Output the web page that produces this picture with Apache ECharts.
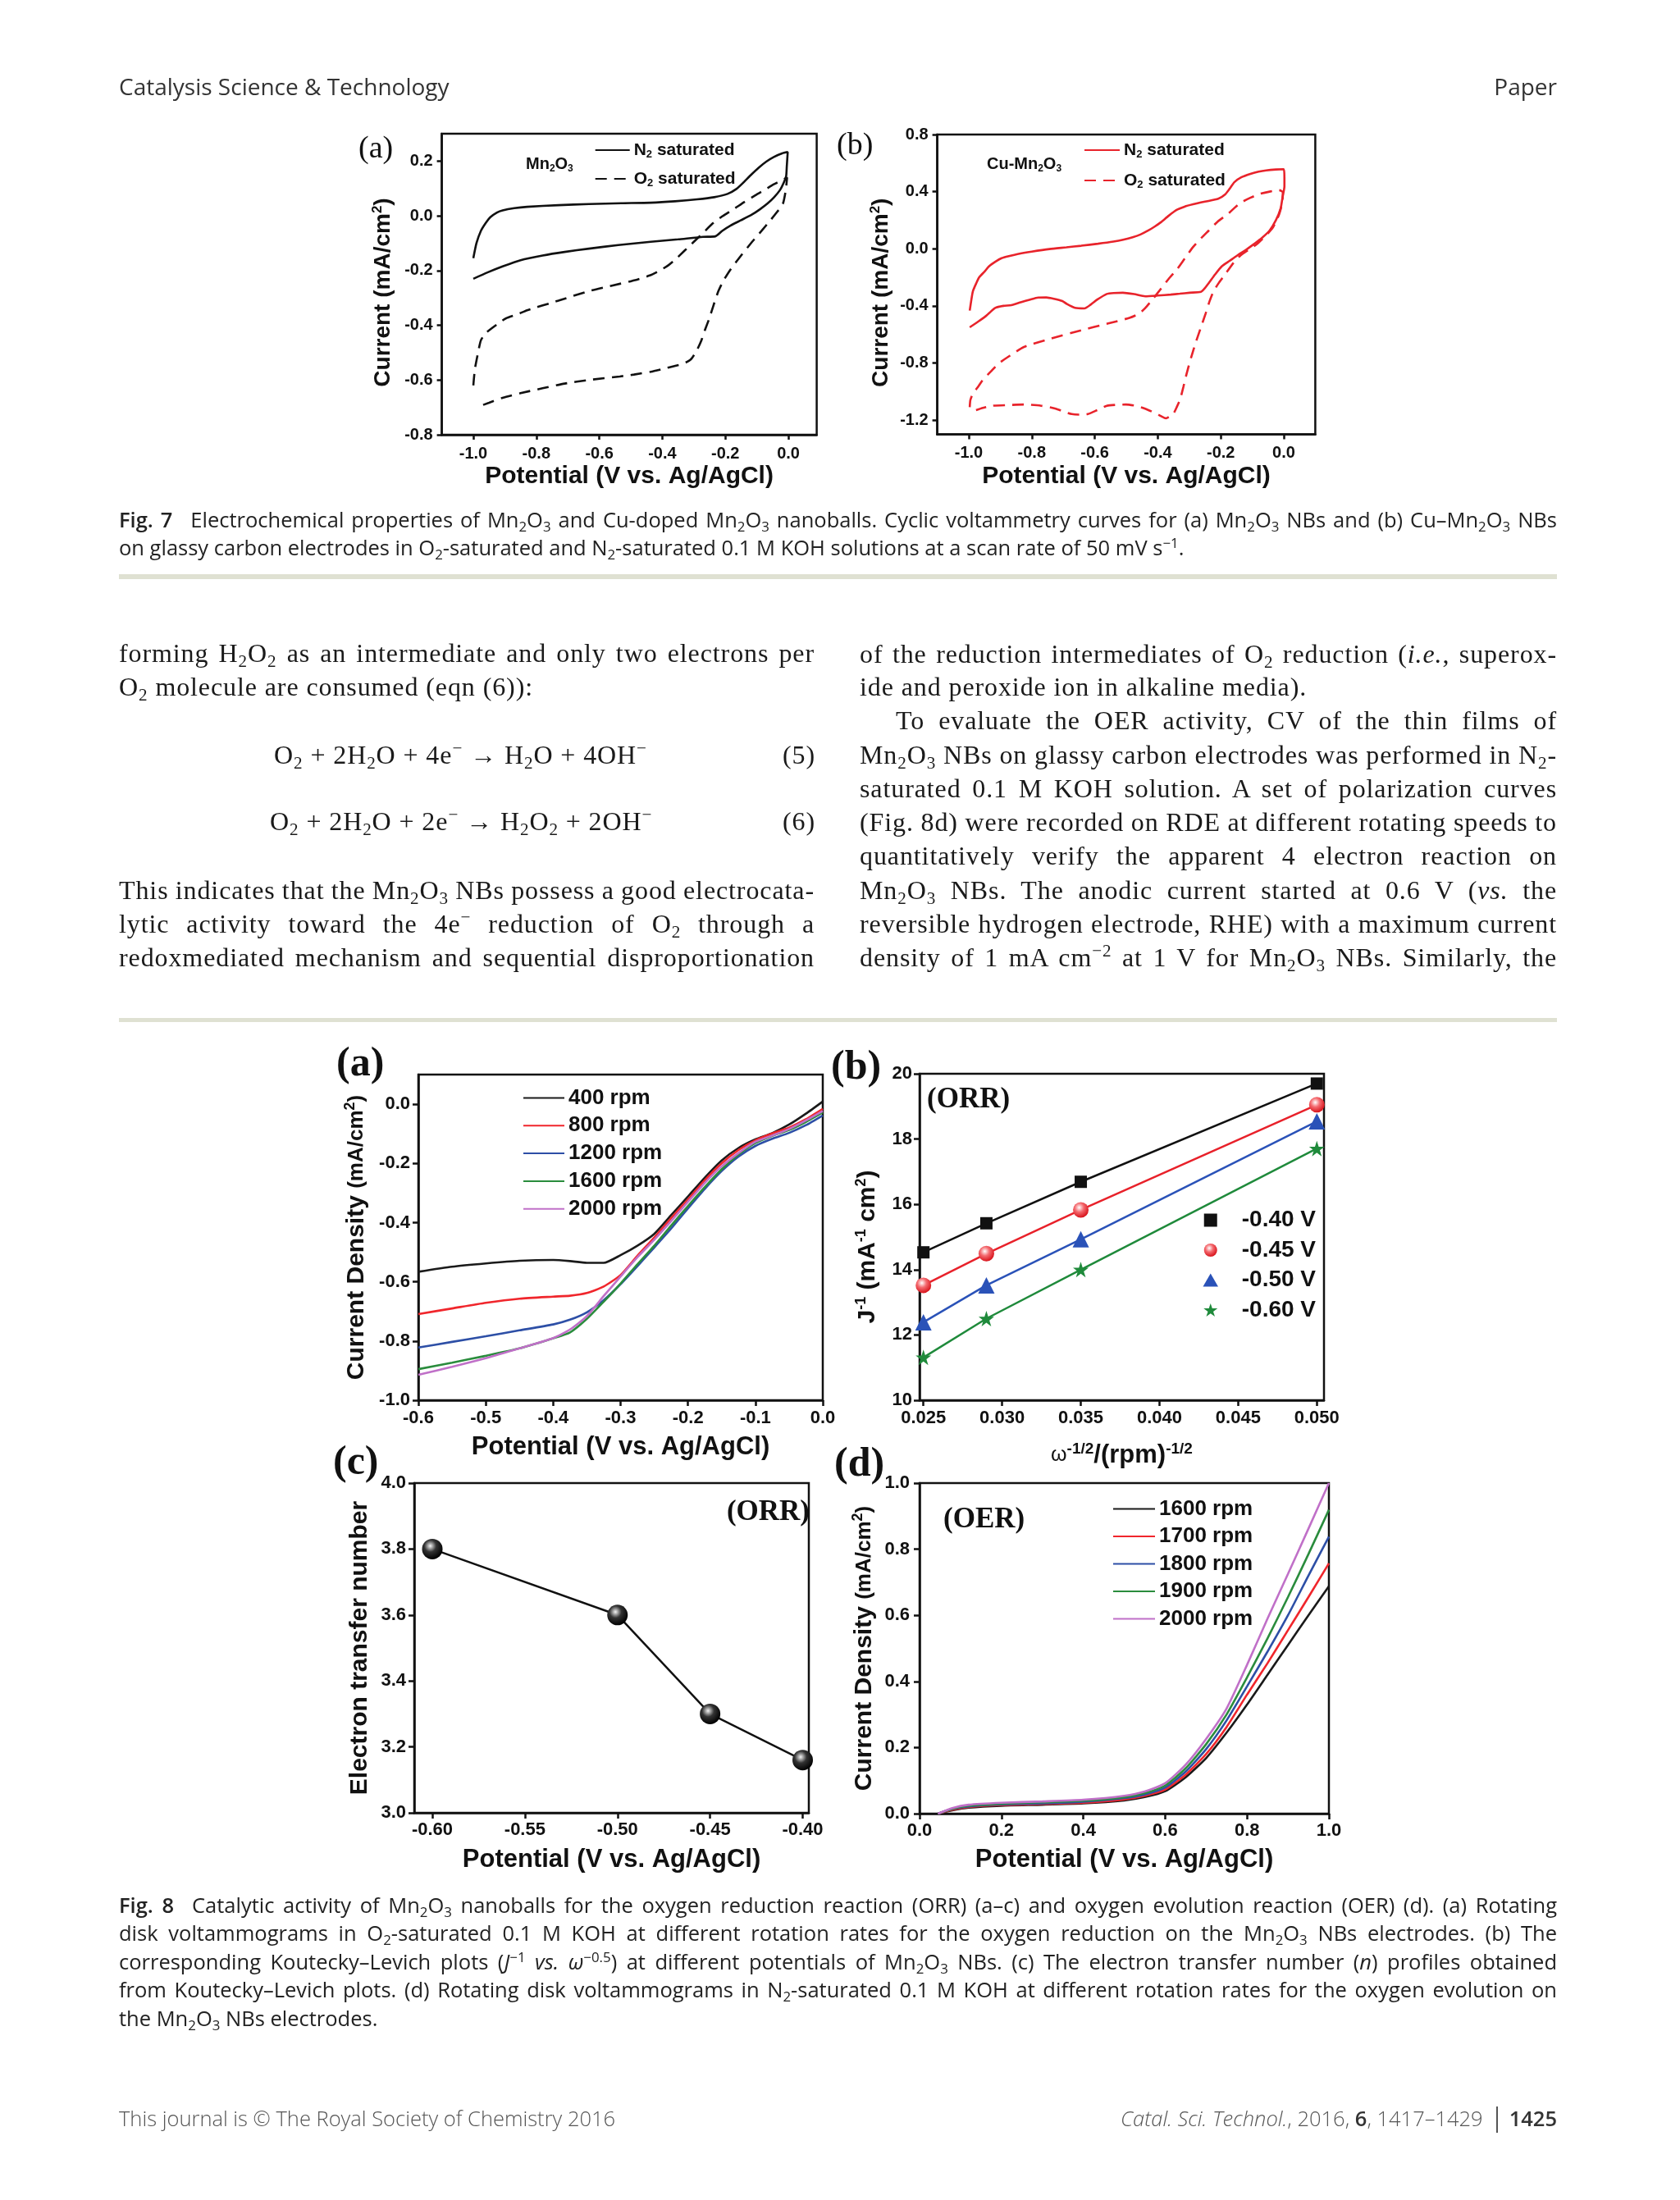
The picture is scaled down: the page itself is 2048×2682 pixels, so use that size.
<!DOCTYPE html>
<html><head><meta charset="utf-8">
<script src="https://cdn.jsdelivr.net/npm/echarts@6/dist/echarts.min.js"></script>
<style>
html,body{margin:0;padding:0;background:#fff;}
#page{position:relative;width:2048px;height:2682px;overflow:hidden;background:#fff;}
#chart{position:absolute;left:0;top:0;width:2048px;height:2682px;}
.t{position:absolute;white-space:nowrap;}
.hdr{font-family:"Open Sans",sans-serif;font-size:28px;color:#333;line-height:36px;}
.cap{font-family:"Open Sans",sans-serif;font-size:25.5px;color:#222;line-height:34px;}
.cap b{font-weight:600;margin-right:22px;}
.body{font-family:"Liberation Serif",serif;font-size:32px;letter-spacing:0.9px;color:#1a1a1a;line-height:40px;}
.foot{font-family:"Open Sans",sans-serif;font-size:25.5px;color:#555;font-weight:300;line-height:34px;}
.foot b{font-weight:600;color:#333;}
sub{font-size:66%;vertical-align:-0.28em;line-height:0;}
sup{font-size:66%;vertical-align:0.55em;line-height:0;}
.rule{position:absolute;left:145px;width:1753px;background:#dfe1d2;}
</style></head>
<body><div id="page"><div id="chart"></div>
<div class="rule" style="top:700px;height:6px;"></div>
<div class="rule" style="top:1241px;height:5px;"></div>
</div>
<script>
// ---------------- DATA ----------------
// Fig 7a: Mn2O3 cyclic voltammograms [potential V, current mA/cm2]
const cvMnN2 = [[-1.0,-0.155],[-0.99,-0.10],[-0.976,-0.055],[-0.96,-0.025],[-0.946,-0.005],[-0.925,0.012],[-0.907,0.02],[-0.87,0.028],[-0.829,0.033],[-0.73,0.039],[-0.633,0.043],[-0.53,0.046],[-0.437,0.048],[-0.36,0.053],[-0.29,0.06],[-0.235,0.068],[-0.193,0.08],[-0.165,0.098],[-0.144,0.12],[-0.12,0.148],[-0.095,0.175],[-0.07,0.198],[-0.046,0.215],[-0.02,0.228],[-0.002,0.233],
 [-0.005,0.18],[-0.007,0.145],[-0.015,0.12],[-0.026,0.095],[-0.045,0.068],[-0.066,0.045],[-0.09,0.024],[-0.115,0.005],[-0.15,-0.016],[-0.183,-0.035],[-0.21,-0.055],[-0.232,-0.075],[-0.271,-0.077],[-0.35,-0.086],[-0.437,-0.095],[-0.54,-0.107],[-0.633,-0.12],[-0.71,-0.132],[-0.78,-0.145],[-0.85,-0.162],[-0.907,-0.185],[-0.955,-0.207],[-1.0,-0.23]];
const cvMnO2 = [[-1.0,-0.62],[-0.995,-0.56],[-0.985,-0.5],[-0.976,-0.455],[-0.962,-0.43],[-0.946,-0.415],[-0.92,-0.393],[-0.897,-0.375],[-0.86,-0.36],[-0.829,-0.345],[-0.73,-0.31],[-0.633,-0.275],[-0.56,-0.255],[-0.486,-0.235],[-0.44,-0.218],[-0.408,-0.2],[-0.38,-0.18],[-0.359,-0.16],[-0.33,-0.128],[-0.3,-0.095],[-0.27,-0.062],[-0.242,-0.03],[-0.21,-0.002],[-0.173,0.025],[-0.14,0.05],[-0.105,0.075],[-0.075,0.095],[-0.046,0.115],[-0.02,0.13],[-0.004,0.14],
 [-0.008,0.095],[-0.017,0.045],[-0.035,0.015],[-0.056,-0.015],[-0.085,-0.055],[-0.115,-0.095],[-0.15,-0.145],[-0.183,-0.195],[-0.205,-0.235],[-0.222,-0.275],[-0.237,-0.325],[-0.251,-0.375],[-0.264,-0.415],[-0.276,-0.455],[-0.292,-0.495],[-0.31,-0.525],[-0.333,-0.54],[-0.359,-0.548],[-0.4,-0.56],[-0.437,-0.57],[-0.49,-0.58],[-0.535,-0.587],[-0.633,-0.6],[-0.71,-0.613],[-0.78,-0.63],[-0.85,-0.648],[-0.907,-0.665],[-0.95,-0.683],[-0.99,-0.70]];
// Fig 7b: Cu-Mn2O3
const cvCuN2 = [[-0.997,-0.433],[-0.992,-0.36],[-0.987,-0.298],[-0.977,-0.245],[-0.967,-0.2],[-0.95,-0.16],[-0.936,-0.124],[-0.915,-0.09],[-0.896,-0.066],[-0.87,-0.05],[-0.845,-0.037],[-0.8,-0.02],[-0.744,-0.002],[-0.69,0.01],[-0.643,0.021],[-0.59,0.035],[-0.541,0.05],[-0.51,0.063],[-0.48,0.08],[-0.455,0.1],[-0.43,0.128],[-0.41,0.155],[-0.39,0.186],[-0.365,0.232],[-0.339,0.273],[-0.315,0.295],[-0.288,0.311],[-0.25,0.33],[-0.208,0.35],[-0.187,0.379],[-0.172,0.42],[-0.157,0.466],[-0.135,0.5],[-0.106,0.524],[-0.08,0.54],[-0.056,0.549],[-0.025,0.555],[0.0,0.557],
 [0.002,0.5],[0.002,0.437],[-0.004,0.36],[-0.01,0.282],[-0.025,0.2],[-0.045,0.128],[-0.07,0.075],[-0.096,0.031],[-0.12,-0.008],[-0.147,-0.046],[-0.172,-0.085],[-0.197,-0.124],[-0.218,-0.18],[-0.238,-0.24],[-0.252,-0.28],[-0.263,-0.302],[-0.299,-0.308],[-0.33,-0.315],[-0.359,-0.321],[-0.4,-0.328],[-0.44,-0.333],[-0.475,-0.318],[-0.511,-0.308],[-0.54,-0.31],[-0.562,-0.317],[-0.592,-0.356],[-0.612,-0.39],[-0.633,-0.418],[-0.663,-0.414],[-0.69,-0.385],[-0.703,-0.366],[-0.73,-0.35],[-0.754,-0.341],[-0.78,-0.342],[-0.805,-0.356],[-0.835,-0.375],[-0.865,-0.395],[-0.89,-0.4],[-0.916,-0.414],[-0.935,-0.45],[-0.946,-0.472],[-0.97,-0.51],[-0.997,-0.55]];
const cvCuO2 = [[-0.997,-1.11],[-0.995,-1.06],[-0.987,-1.015],[-0.97,-0.965],[-0.956,-0.92],[-0.93,-0.86],[-0.906,-0.805],[-0.87,-0.75],[-0.825,-0.688],[-0.74,-0.63],[-0.643,-0.571],[-0.56,-0.525],[-0.49,-0.484],[-0.46,-0.455],[-0.44,-0.416],[-0.415,-0.35],[-0.39,-0.28],[-0.365,-0.21],[-0.339,-0.144],[-0.315,-0.07],[-0.288,0.012],[-0.262,0.075],[-0.238,0.128],[-0.21,0.19],[-0.177,0.244],[-0.157,0.285],[-0.137,0.322],[-0.105,0.358],[-0.076,0.384],[-0.045,0.4],[-0.015,0.41],[-0.003,0.396],
 [-0.005,0.322],[-0.015,0.24],[-0.035,0.147],[-0.06,0.085],[-0.086,0.031],[-0.11,-0.005],[-0.137,-0.046],[-0.16,-0.1],[-0.187,-0.182],[-0.205,-0.235],[-0.223,-0.298],[-0.236,-0.37],[-0.248,-0.453],[-0.263,-0.55],[-0.278,-0.647],[-0.294,-0.76],[-0.309,-0.88],[-0.319,-0.97],[-0.329,-1.054],[-0.34,-1.11],[-0.349,-1.15],[-0.362,-1.175],[-0.374,-1.188],[-0.392,-1.17],[-0.41,-1.15],[-0.44,-1.12],[-0.47,-1.1],[-0.501,-1.091],[-0.53,-1.093],[-0.562,-1.1],[-0.592,-1.13],[-0.622,-1.158],[-0.648,-1.162],[-0.673,-1.158],[-0.7,-1.14],[-0.724,-1.12],[-0.77,-1.1],[-0.825,-1.091],[-0.876,-1.095],[-0.926,-1.1],[-0.955,-1.115],[-0.977,-1.13]];

// Fig 8a: ORR RDE curves
const orrE = [-0.6,-0.55,-0.5,-0.45,-0.4,-0.375,-0.35,-0.325,-0.3,-0.275,-0.25,-0.225,-0.2,-0.175,-0.15,-0.125,-0.1,-0.075,-0.05,-0.025,0];
const orr400  = [-0.566,-0.549,-0.538,-0.529,-0.526,-0.53,-0.536,-0.536,-0.51,-0.478,-0.438,-0.375,-0.312,-0.248,-0.19,-0.148,-0.119,-0.098,-0.069,-0.032,0.009];
const orr800  = [-0.709,-0.69,-0.671,-0.657,-0.65,-0.647,-0.638,-0.616,-0.577,-0.512,-0.45,-0.385,-0.322,-0.257,-0.2,-0.155,-0.122,-0.099,-0.079,-0.051,-0.016];
const orr1200 = [-0.822,-0.803,-0.784,-0.764,-0.744,-0.728,-0.703,-0.662,-0.608,-0.547,-0.484,-0.42,-0.352,-0.286,-0.226,-0.177,-0.141,-0.117,-0.097,-0.071,-0.038];
const orr1600 = [-0.895,-0.873,-0.85,-0.825,-0.791,-0.771,-0.725,-0.667,-0.606,-0.541,-0.478,-0.41,-0.344,-0.28,-0.22,-0.17,-0.131,-0.107,-0.087,-0.06,-0.028];
const orr2000 = [-0.914,-0.887,-0.858,-0.825,-0.79,-0.761,-0.716,-0.648,-0.582,-0.517,-0.458,-0.395,-0.33,-0.266,-0.21,-0.165,-0.127,-0.106,-0.084,-0.055,-0.023];

// Fig 8b: Koutecky-Levich
const klX = [0.025, 0.029, 0.035, 0.050];
const kl040 = [14.53, 15.42, 16.69, 19.70];
const kl045 = [13.52, 14.49, 15.83, 19.05];
const kl050 = [12.39, 13.52, 14.93, 18.54];
const kl060 = [11.31, 12.50, 14.00, 17.71];

// Fig 8c: electron transfer number
const nE = [-0.60, -0.50, -0.45, -0.40];
const nVal = [3.80, 3.60, 3.30, 3.16];

// Fig 8d: OER RDE curves
const oerE = [0.045,0.08,0.12,0.2,0.3,0.4,0.5,0.55,0.6,0.65,0.7,0.75,0.8,0.85,0.9,0.95,1.0];
const oer1600 = [0,0.010,0.018,0.024,0.027,0.031,0.040,0.050,0.068,0.110,0.168,0.245,0.330,0.420,0.510,0.600,0.688];
const oer1700 = [0,0.012,0.020,0.026,0.029,0.033,0.043,0.054,0.073,0.118,0.180,0.262,0.360,0.455,0.555,0.655,0.757];
const oer1800 = [0,0.014,0.022,0.028,0.031,0.036,0.047,0.058,0.079,0.127,0.195,0.282,0.385,0.490,0.600,0.720,0.838];
const oer1900 = [0,0.015,0.024,0.030,0.034,0.039,0.050,0.062,0.085,0.137,0.210,0.300,0.412,0.530,0.655,0.785,0.919];
const oer2000 = [0,0.017,0.027,0.033,0.037,0.042,0.054,0.067,0.092,0.148,0.226,0.318,0.450,0.590,0.725,0.862,1.000];

// tick values
const ticks7x = [-1.0,-0.8,-0.6,-0.4,-0.2,0.0];
const ticks7aY = [-0.8,-0.6,-0.4,-0.2,0.0,0.2];
const ticks7bY = [-1.2,-0.8,-0.4,0.0,0.4,0.8];
const ticks8aX = [-0.6,-0.5,-0.4,-0.3,-0.2,-0.1,0.0];
const ticks8aY = [-1.0,-0.8,-0.6,-0.4,-0.2,0.0];
const ticks8bX = [0.025,0.030,0.035,0.040,0.045,0.050];
const ticks8bY = [10,12,14,16,18,20];
const ticks8cX = [-0.60,-0.55,-0.50,-0.45,-0.40];
const ticks8cY = [3.0,3.2,3.4,3.6,3.8,4.0];
const ticks8dX = [0.0,0.2,0.4,0.6,0.8,1.0];
const ticks8dY = [0.0,0.2,0.4,0.6,0.8,1.0];

// ---------------- TEXT (HTML) ----------------
const page = document.getElementById('page');
function addText(html, cls, x, cy, opts) {
  const el = document.createElement('div');
  el.className = 't ' + cls; el.innerHTML = html; page.appendChild(el);
  const lh = parseFloat(getComputedStyle(el).lineHeight);
  el.style.top = (cy - lh / 2) + 'px';
  const w = el.getBoundingClientRect().width;
  if (opts && opts.justify) {
    const n = (el.textContent.match(/ /g) || []).length;
    if (n) el.style.wordSpacing = ((opts.justify - w) / n) + 'px';
    el.style.left = x + 'px';
  } else if (opts && opts.right) {
    el.style.left = (x - w) + 'px';
  } else el.style.left = x + 'px';
}
const M = 'Mn<sub>2</sub>O<sub>3</sub>';
addText('Catalysis Science &amp; Technology', 'hdr', 145, 105);
addText('Paper', 'hdr', 1898, 105, {right:true});
addText('<b>Fig. 7</b>Electrochemical properties of ' + M + ' and Cu-doped ' + M + ' nanoballs. Cyclic voltammetry curves for (a) ' + M + ' NBs and (b) Cu–' + M + ' NBs', 'cap', 145, 633, {justify:1753});
addText('on glassy carbon electrodes in O<sub>2</sub>-saturated and N<sub>2</sub>-saturated 0.1 M KOH solutions at a scan rate of 50 mV s<sup>−1</sup>.', 'cap', 145, 667);

const leftCol = [
  [796, 'forming H<sub>2</sub>O<sub>2</sub> as an intermediate and only two electrons per', true],
  [837, 'O<sub>2</sub> molecule are consumed (eqn (6)):', false],
  [1085, 'This indicates that the ' + M + ' NBs possess a good electrocata-', true],
  [1126, 'lytic activity toward the 4e<sup>−</sup> reduction of O<sub>2</sub> through a', true],
  [1167, 'redoxmediated mechanism and sequential disproportionation', true]];
leftCol.forEach(l => addText(l[1], 'body', 145, l[0], l[2] ? {justify:848} : null));
addText('O<sub>2</sub> + 2H<sub>2</sub>O + 4e<sup>−</sup> → H<sub>2</sub>O + 4OH<sup>−</sup>', 'body', 334, 920);
addText('(5)', 'body', 994, 920, {right:true});
addText('O<sub>2</sub> + 2H<sub>2</sub>O + 2e<sup>−</sup> → H<sub>2</sub>O<sub>2</sub> + 2OH<sup>−</sup>', 'body', 329, 1001);
addText('(6)', 'body', 994, 1001, {right:true});
const rightCol = [
  [797, 'of the reduction intermediates of O<sub>2</sub> reduction (<i>i.e.</i>, superox-', true, 0],
  [837, 'ide and peroxide ion in alkaline media).', false, 0],
  [878, 'To evaluate the OER activity, CV of the thin films of', true, 44],
  [920, M + ' NBs on glassy carbon electrodes was performed in N<sub>2</sub>-', true, 0],
  [961, 'saturated 0.1 M KOH solution. A set of polarization curves', true, 0],
  [1002, '(Fig. 8d) were recorded on RDE at different rotating speeds to', true, 0],
  [1043, 'quantitatively verify the apparent 4 electron reaction on', true, 0],
  [1085, M + ' NBs. The anodic current started at 0.6 V (<i>vs.</i> the', true, 0],
  [1126, 'reversible hydrogen electrode, RHE) with a maximum current', true, 0],
  [1167, 'density of 1 mA cm<sup>−2</sup> at 1 V for ' + M + ' NBs. Similarly, the', true, 0]];
rightCol.forEach(l => addText(l[1], 'body', 1048 + l[3], l[0], l[2] ? {justify:850 - l[3]} : null));

const cap8 = [
  [2322, '<b>Fig. 8</b>Catalytic activity of ' + M + ' nanoballs for the oxygen reduction reaction (ORR) (a–c) and oxygen evolution reaction (OER) (d). (a) Rotating', true],
  [2356, 'disk voltammograms in O<sub>2</sub>-saturated 0.1 M KOH at different rotation rates for the oxygen reduction on the ' + M + ' NBs electrodes. (b) The', true],
  [2391, 'corresponding Koutecky–Levich plots (<i>J</i><sup>−1</sup> <i>vs.</i> <i>ω</i><sup>−0.5</sup>) at different potentials of ' + M + ' NBs. (c) The electron transfer number (<i>n</i>) profiles obtained', true],
  [2425, 'from Koutecky–Levich plots. (d) Rotating disk voltammograms in N<sub>2</sub>-saturated 0.1 M KOH at different rotation rates for the oxygen evolution on', true],
  [2460, 'the ' + M + ' NBs electrodes.', false]];
cap8.forEach(l => addText(l[1], 'cap', 145, l[0], l[2] ? {justify:1753} : null));
addText('This journal is © The Royal Society of Chemistry 2016', 'foot', 145, 2582);
addText('<i>Catal. Sci. Technol.</i>, 2016, <b>6</b>, 1417–1429<span style="display:inline-block;width:2px;height:32px;background:#555;vertical-align:-8px;margin:0 14px 0 16px;"></span><b>1425</b>', 'foot', 1898, 2582, {right:true});

// ---------------- CHART ----------------
const AX = '#111';
const SANS = '"Liberation Sans", Arial, sans-serif';
const SERIF = '"Liberation Serif", "Times New Roman", serif';
const zip = (xs, ys) => xs.map((x, i) => [x, ys[i]]);
const fmt = (v, d) => { let s = Number(v).toFixed(d); if (parseFloat(s) === 0) s = (0).toFixed(d); return s; };

function richSet(fs) {
  return {
    t: {fontSize: fs, fontWeight: 'bold', fontFamily: SANS, color: AX, lineHeight: fs + 4},
    p: {fontSize: Math.round(fs * 0.85), fontWeight: 'bold', fontFamily: SANS, color: AX, lineHeight: fs + 4},
    u: {fontSize: Math.round(fs * 0.6), fontWeight: 'bold', fontFamily: SANS, color: AX, lineHeight: Math.round(fs * 0.5), verticalAlign: 'top'},
    s: {fontSize: Math.round(fs * 0.6), fontWeight: 'bold', fontFamily: SANS, color: AX, lineHeight: Math.round(fs * 0.5), verticalAlign: 'bottom'},
    w: {fontSize: Math.round(fs * 0.8), fontWeight: 'normal', fontFamily: SANS, color: AX, lineHeight: fs + 4}
  };
}
function axis(gi, min, max, ticks, dec, o) {
  return {
    gridIndex: gi, type: 'value', min: min, max: max,
    axisLine: {show: true, onZero: false, lineStyle: {color: AX, width: 2.5}},
    axisTick: {show: true, inside: false, length: o.tl || 7, customValues: ticks, lineStyle: {color: AX, width: 2.5}},
    axisLabel: {show: true, customValues: ticks, margin: o.margin, formatter: v => fmt(v, dec),
      color: AX, fontFamily: SANS, fontWeight: 'bold', fontSize: o.fs, hideOverlap: false},
    splitLine: {show: false},
    name: o.name, nameLocation: 'middle', nameGap: o.gap,
    nameTextStyle: {fontFamily: SANS, fontWeight: 'bold', fontSize: o.nfs, color: AX, lineHeight: o.nfs + 4,
      rich: richSet(o.nfs), padding: o.pad || 0}
  };
}
const grids = [
  [538.6, 163, 457, 367],
  [1142.6, 164, 460.8, 365.5],
  [510, 1310, 493, 397],
  [1121, 1309, 493, 398],
  [505, 1808, 481, 402],
  [1121, 1808, 499, 403]
];
const xAxes = [
  axis(0, -1.1, 0.09, ticks7x, 1, {fs: 20, margin: 13, tl: 6, name: 'Potential (V vs. Ag/AgCl)', nfs: 30, gap: 31}),
  axis(1, -1.1, 0.1, ticks7x, 1, {fs: 20, margin: 13, tl: 6, name: 'Potential (V vs. Ag/AgCl)', nfs: 30, gap: 31.5}),
  axis(2, -0.6, 0.0, ticks8aX, 1, {fs: 22, margin: 11, name: 'Potential (V vs. Ag/AgCl)', nfs: 31, gap: 40}),
  axis(3, 0.024755, 0.050454, ticks8bX, 3, {fs: 22, margin: 11, name: '{w|ω}{u|-1/2}{t|/(rpm)}{u|-1/2}', nfs: 31, gap: 50}),
  axis(4, -0.60975, -0.39668, ticks8cX, 2, {fs: 22, margin: 10, name: 'Potential (V vs. Ag/AgCl)', nfs: 31, gap: 40}),
  axis(5, 0, 1, ticks8dX, 1, {fs: 22, margin: 10, name: 'Potential (V vs. Ag/AgCl)', nfs: 31, gap: 39})
];
const yAxes = [
  axis(0, -0.8, 0.3, ticks7aY, 1, {fs: 20, margin: 11, tl: 6, name: '{t|Current (mA/cm}{u|2}{t|)}', nfs: 28, gap: 55, pad: [0, 20, 0, 0]}),
  axis(1, -1.3, 0.8, ticks7bY, 1, {fs: 20, margin: 11, tl: 6, name: '{t|Current (mA/cm}{u|2}{t|)}', nfs: 28, gap: 52, pad: [0, 20, 0, 0]}),
  axis(2, -1.0, 0.1, ticks8aY, 1, {fs: 22, margin: 10, name: '{t|Current Density }{p|(mA/cm}{u|2}{p|)}', nfs: 30, gap: 58}),
  axis(3, 10, 20, ticks8bY, 0, {fs: 22, margin: 9, name: '{t|J}{u|-1}{t| (mA}{u|-1}{t| cm}{u|2}{t|)}', nfs: 30, gap: 46, pad: [0, 24, 0, 0]}),
  axis(4, 3.0, 4.0, ticks8cY, 1, {fs: 22, margin: 10, name: 'Electron transfer number', nfs: 30, gap: 49}),
  axis(5, 0, 1, ticks8dY, 1, {fs: 22, margin: 12, name: '{t|Current Density }{p|(mA/cm}{u|2}{p|)}', nfs: 30, gap: 50})
];

const RED7 = '#e8232b';
const C8 = {k: '#1a1a1a', r: '#f0262c', b: '#2d4fa6', g: '#2a8c3d', p: '#c070c8'};
function ln(name, gi, data, color, extra) {
  return Object.assign({type: 'line', name: name, xAxisIndex: gi, yAxisIndex: gi, data: data,
    symbol: 'none', showSymbol: false, smooth: 0.2, lineStyle: {color: color, width: 2.6}, itemStyle: {color: color}, z: 3}, extra || {});
}
const sphere = (c0, c1, c2) => ({type: 'radial', x: 0.4, y: 0.35, r: 0.65,
  colorStops: [{offset: 0, color: c0}, {offset: 0.45, color: c1}, {offset: 1, color: c2}]});
const STAR = 'path://M50,0 L61.8,35.1 L98.9,35.1 L68.9,56.8 L80.3,92 L50,70.2 L19.7,92 L31.1,56.8 L1.1,35.1 L38.2,35.1 Z';
const SQUARE = 'path://M0,0 L10,0 L10,10 L0,10 Z';
const TRI = 'path://M5,0 L10,8.66 L0,8.66 Z';

function klSeries(name, ys, color, symbol, size, itemColor) {
  return {type: 'line', name: name, xAxisIndex: 3, yAxisIndex: 3, data: zip(klX, ys), smooth: false,
    symbol: symbol, symbolSize: size, showSymbol: true, lineStyle: {color: color, width: 2.5},
    itemStyle: {color: itemColor || color}, z: 3};
}

const series = [
  ln('aN2', 0, cvMnN2, '#111'),
  ln('aO2', 0, cvMnO2, '#111', {lineStyle: {color: '#111', width: 2.6, type: [14, 9]}}),
  ln('bN2', 1, cvCuN2, RED7),
  ln('bO2', 1, cvCuO2, RED7, {lineStyle: {color: RED7, width: 2.6, type: [14, 9]}}),
  ln('r400', 2, zip(orrE, orr400), C8.k),
  ln('r800', 2, zip(orrE, orr800), C8.r),
  ln('r1200', 2, zip(orrE, orr1200), C8.b),
  ln('r1600', 2, zip(orrE, orr1600), C8.g),
  ln('r2000', 2, zip(orrE, orr2000), C8.p),
  klSeries('k40', kl040, '#111', 'rect', 15),
  klSeries('k45', kl045, '#e8212a', 'circle', 19, sphere('#ffffff', '#f46a6f', '#d8141c')),
  klSeries('k50', kl050, '#2a52b8', 'triangle', 20),
  klSeries('k60', kl060, '#1f8a3b', STAR, 19),
  {type: 'line', name: 'nline', xAxisIndex: 4, yAxisIndex: 4, data: zip(nE, nVal), smooth: false,
    symbol: 'circle', symbolSize: 25, showSymbol: true, lineStyle: {color: '#111', width: 2.5},
    itemStyle: {color: sphere('#f4f4f4', '#333333', '#000000')}, z: 3},
  ln('o1600', 5, zip(oerE, oer1600), C8.k),
  ln('o1700', 5, zip(oerE, oer1700), C8.r),
  ln('o1800', 5, zip(oerE, oer1800), C8.b),
  ln('o1900', 5, zip(oerE, oer1900), C8.g),
  ln('o2000', 5, zip(oerE, oer2000), C8.p)
];

const legendLabels = {
  aN2: '{t|N}{s|2}{t| saturated}', aO2: '{t|O}{s|2}{t| saturated}',
  bN2: '{t|N}{s|2}{t| saturated}', bO2: '{t|O}{s|2}{t| saturated}',
  r400: '{t|400 rpm}', r800: '{t|800 rpm}', r1200: '{t|1200 rpm}', r1600: '{t|1600 rpm}', r2000: '{t|2000 rpm}',
  k40: '{t|-0.40 V}', k45: '{t|-0.45 V}', k50: '{t|-0.50 V}', k60: '{t|-0.60 V}',
  o1600: '{t|1600 rpm}', o1700: '{t|1700 rpm}', o1800: '{t|1800 rpm}', o1900: '{t|1900 rpm}', o2000: '{t|2000 rpm}'
};
function leg(left, top, data, iw, ih, fs, gap, lineOnly) {
  const rs = richSet(fs);
  rs.t.lineHeight = fs + 3; rs.s.lineHeight = Math.round(fs * 0.45);
  const l = {orient: 'vertical', left: left, top: top, padding: 0, itemGap: gap, itemWidth: iw, itemHeight: ih,
    selectedMode: false, data: data, formatter: n => legendLabels[n],
    textStyle: {color: AX, fontFamily: SANS, fontWeight: 'bold', fontSize: fs, lineHeight: fs + 3, rich: rs}};
  if (lineOnly) l.itemStyle = {opacity: 0};
  return l;
}
const legends = [
  leg(724.7, 171, ['aN2', 'aO2'], 42, 14, 21, 11, true),
  leg(1321, 171, ['bN2', 'bO2'], 43, 14, 21, 13, true),
  leg(637, 1324, ['r400', 'r800', 'r1200', 'r1600', 'r2000'], 50, 14, 26, 4.8, true),
  leg(1466.5, 1472, [{name: 'k40', icon: SQUARE}, {name: 'k45', icon: 'circle'}, {name: 'k50', icon: TRI}, {name: 'k60', icon: STAR}], 66, 16, 28, 5.5, false),
  leg(1356, 1825, ['o1600', 'o1700', 'o1800', 'o1900', 'o2000'], 51, 14, 26, 4.5, true)
];

function txt(x, y, text, font, align, rich) {
  const st = {text: text, x: 0, y: 0, font: font, fill: AX, align: align || 'left', verticalAlign: 'middle'};
  if (rich) st.rich = rich;
  return {type: 'text', x: x, y: y, z: 100, style: st};
}
const r20 = richSet(20); r20.s.lineHeight = 9;
const graphics = [
  txt(437, 182, '(a)', '38px ' + SERIF),
  txt(1020, 178, '(b)', '38px ' + SERIF),
  txt(641, 200, '{t|Mn}{s|2}{t|O}{s|3}', 'bold 20px ' + SANS, 'left', r20),
  txt(1203, 200, '{t|Cu-Mn}{s|2}{t|O}{s|3}', 'bold 20px ' + SANS, 'left', r20),
  txt(410, 1298, '(a)', 'bold 50px ' + SERIF),
  txt(1013, 1302, '(b)', 'bold 50px ' + SERIF),
  txt(406, 1784, '(c)', 'bold 50px ' + SERIF),
  txt(1017, 1786, '(d)', 'bold 50px ' + SERIF),
  txt(1130, 1341, '(ORR)', 'bold 35px ' + SERIF),
  txt(987, 1844, '(ORR)', 'bold 35px ' + SERIF, 'right'),
  txt(1150, 1853, '(OER)', 'bold 35px ' + SERIF)
];

const chart = echarts.init(document.getElementById('chart'), null, {renderer: 'canvas', width: 2048, height: 2682});
chart.setOption({
  animation: false,
  backgroundColor: 'transparent',
  grid: grids.map(g => ({left: g[0], top: g[1], width: g[2], height: g[3], show: true, borderColor: AX, borderWidth: 2.5, backgroundColor: 'transparent'})),
  xAxis: xAxes,
  yAxis: yAxes,
  legend: legends,
  series: series,
  graphic: {elements: graphics}
});
</script>
</body></html>
